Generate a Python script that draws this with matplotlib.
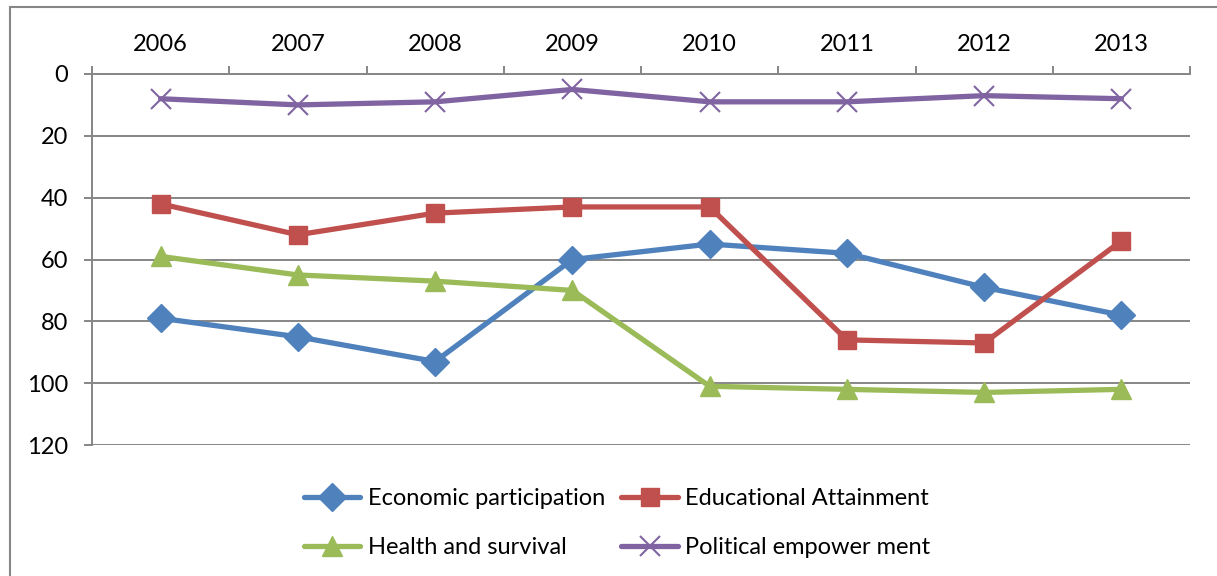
import matplotlib.pyplot as plt
from matplotlib.patches import Rectangle
from matplotlib.ticker import FixedLocator, NullFormatter

years = ['2006', '2007', '2008', '2009', '2010', '2011', '2012', '2013']
economic = [79, 85, 93, 60, 55, 58, 69, 78]
education = [42, 52, 45, 43, 43, 86, 87, 54]
health = [59, 65, 67, 70, 101, 102, 103, 102]
political = [8, 10, 9, 5, 9, 9, 7, 8]

plt.rcParams['font.family'] = ['Lato', 'DejaVu Sans']
plt.rcParams['font.size'] = 17

GRID = '#868686'

fig = plt.figure(figsize=(12.17, 5.76), dpi=100)
# chart frame that runs off the right and bottom edges
fig.patches.append(Rectangle((10 / 1217, -0.1), 1.2, 1 - 7 / 576 + 0.1,
                             transform=fig.transFigure, fill=False,
                             edgecolor=GRID, linewidth=1.5))

ax = fig.add_axes([92 / 1217, 1 - 445 / 576, 1098 / 1217, 371 / 576])
x = range(len(years))

series = [
    ('Economic participation', economic, '#4F81BD', 'D', 14),
    ('Educational Attainment', education, '#C0504D', 's', 13.5),
    ('Health and survival', health, '#9BBB59', '^', 14.5),
    ('Political empower ment', political, '#8064A2', 'x', 14),
]
lines = []
for label, vals, col, mk, ms in series:
    ln, = ax.plot(x, vals, color=col, linewidth=3.8, marker=mk, markersize=ms,
                  markeredgewidth=1.5 if mk == 'x' else 1, markeredgecolor=col,
                  label=label, solid_capstyle='round')
    lines.append(ln)

ax.set_xlim(-0.5, len(years) - 0.5)
ax.set_ylim(120, 0)
ax.set_yticks(range(0, 121, 20))
ax.yaxis.grid(True, color=GRID, linewidth=1.4)
ax.set_axisbelow(True)

ax.xaxis.tick_top()
ax.set_xticks(list(x))
ax.set_xticklabels(years)
ax.xaxis.set_minor_locator(FixedLocator([i - 0.5 for i in range(len(years) + 1)]))
ax.xaxis.set_minor_formatter(NullFormatter())
ax.tick_params(axis='x', which='major', length=0, pad=14)
ax.tick_params(axis='x', which='minor', length=6, width=1.4, color=GRID)
ax.tick_params(axis='y', length=6, width=1.4, color=GRID, pad=11)

for side in ('right', 'bottom'):
    ax.spines[side].set_visible(False)
for side in ('left', 'top'):
    ax.spines[side].set_color(GRID)
    ax.spines[side].set_linewidth(1.4)

# legend fills row by row: econ / edu on top, health / political below
order = [0, 2, 1, 3]
fig.legend([lines[i] for i in order], [lines[i].get_label() for i in order],
           loc='center', bbox_to_anchor=(617 / 1217, 1 - 523 / 576), ncol=2,
           frameon=False, handlelength=2.4, handletextpad=0.3,
           columnspacing=0.7, labelspacing=1.2)

fig.savefig('out.png', dpi=100)
